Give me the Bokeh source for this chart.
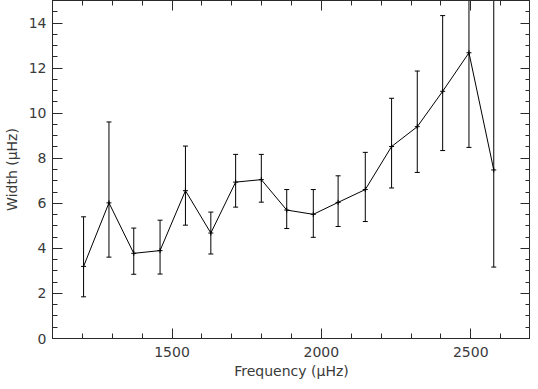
from bokeh.plotting import figure
from bokeh.models import (Range1d, SingleIntervalTicker, LinearAxis, CustomJSTickFormatter,
                          ColumnDataSource)
from bokeh.embed import file_html
from bokeh.resources import INLINE

# Data
freq = [1204, 1289, 1372, 1460, 1545, 1630, 1713, 1799, 1884, 1973, 2056, 2147, 2235, 2321, 2406, 2494, 2577]
width = [3.20, 6.02, 3.78, 3.90, 6.56, 4.68, 6.94, 7.05, 5.70, 5.51, 6.04, 6.61, 8.52, 9.40, 10.97, 12.68, 7.48]
upper = [5.40, 9.61, 4.90, 5.25, 8.54, 5.61, 8.17, 8.17, 6.61, 6.61, 7.22, 8.26, 10.66, 11.87, 14.33, 17.0, 16.5]
lower = [1.85, 3.61, 2.85, 2.86, 5.03, 3.75, 5.83, 6.05, 4.88, 4.49, 4.97, 5.19, 6.68, 7.37, 8.34, 8.48, 3.17]

x_range = (1100, 2700)
y_range = (0, 15)
x_label = "Frequency (\u03bcHz)"
y_label = "Width (\u03bcHz)"

src = ColumnDataSource(dict(freq=freq, width=width, upper=upper, lower=lower))

FONT = "DejaVu Sans"
AX = "#2a2a2a"

p = figure(width=530, height=381, output_backend="svg", toolbar_location=None,
           x_range=Range1d(*x_range), y_range=Range1d(*y_range),
           x_axis_type=None, y_axis_type=None,
           min_border_left=44, min_border_right=0, min_border_top=0, min_border_bottom=40)
p.grid.visible = False
p.outline_line_color = AX
p.outline_line_width = 1
p.background_fill_color = "white"
p.border_fill_color = "white"


def style(ax, labels=True):
    ax.axis_line_color = AX
    ax.major_tick_line_color = AX
    ax.minor_tick_line_color = AX
    ax.major_tick_in = 10
    ax.major_tick_out = 0
    ax.minor_tick_in = 5
    ax.minor_tick_out = 0
    ax.major_label_text_font = FONT
    ax.major_label_text_font_size = "14px"
    ax.major_label_text_color = "#3a3a3a"
    ax.axis_label_text_font = FONT
    ax.axis_label_text_font_size = "14px"
    ax.axis_label_text_font_style = "normal"
    ax.axis_label_text_color = "#3a3a3a"
    if not labels:
        ax.formatter = CustomJSTickFormatter(code="return ''")
        ax.major_label_text_font_size = "0px"
        ax.major_label_standoff = 0
        ax.axis_label_standoff = 0


xt = lambda: SingleIntervalTicker(interval=500, num_minor_ticks=5)
yt = lambda: SingleIntervalTicker(interval=2, num_minor_ticks=4)

xb = LinearAxis(ticker=xt(), axis_label=x_label)
style(xb)
xb.major_label_standoff = 8
xb.axis_label_standoff = 3
p.add_layout(xb, "below")

yl = LinearAxis(ticker=yt(), axis_label=y_label)
style(yl)
yl.major_label_standoff = 6
yl.axis_label_standoff = 6
p.add_layout(yl, "left")

xa = LinearAxis(ticker=xt())
style(xa, labels=False)
p.add_layout(xa, "above")

yr = LinearAxis(ticker=yt())
style(yr, labels=False)
p.add_layout(yr, "right")

# error bars
p.segment(x0="freq", y0="lower", x1="freq", y1="upper", source=src, line_color="black", line_width=1)
p.scatter(x="freq", y="upper", source=src, marker="dash", size=5, line_color="black", line_width=1)
p.scatter(x="freq", y="lower", source=src, marker="dash", size=5, line_color="black", line_width=1)
# line and markers
p.line(x="freq", y="width", source=src, line_color="black", line_width=1)
p.scatter(x="freq", y="width", source=src, marker="cross", size=5, line_color="black", line_width=1)

open("out.html", "w").write(file_html(p, INLINE))
